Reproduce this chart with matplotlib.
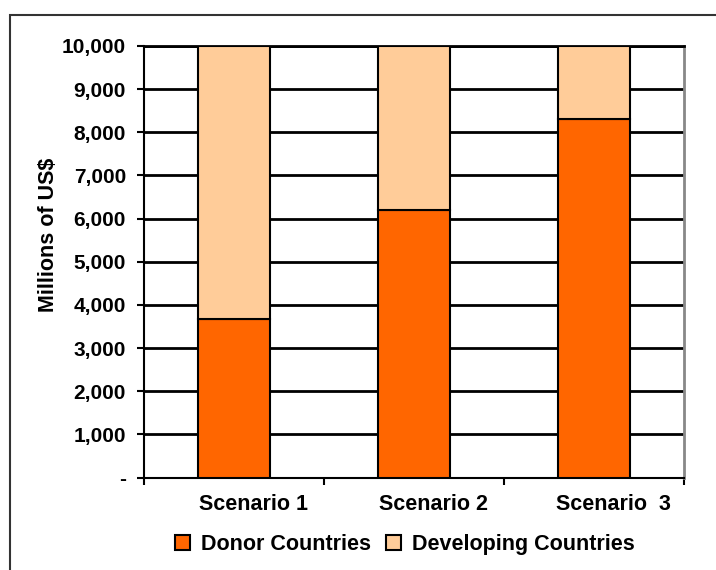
import numpy as np
import matplotlib.pyplot as plt
from matplotlib.patches import Rectangle
from matplotlib.ticker import FuncFormatter

plt.rcParams['font.family'] = ['Liberation Sans', 'DejaVu Sans']
plt.rcParams['font.weight'] = 'bold'

scenarios = ["Scenario 1", "Scenario 2", "Scenario  3"]
donor = [3680, 6210, 8310]
total = [10000, 10000, 10000]
developing = [t - d for t, d in zip(total, donor)]

fig = plt.figure(figsize=(7.16, 5.70), dpi=100)
ax = fig.add_axes([144/716, 1 - 477.5/570, 540/716, 431.5/570])

x = np.arange(len(scenarios))
w = 0.4
ax.bar(x, donor, w, color='#FF6600', edgecolor='black', linewidth=1.5, label='Donor Countries', zorder=3)
ax.bar(x, developing, w, bottom=donor, color='#FFCC99', edgecolor='black', linewidth=1.5,
       label='Developing Countries', zorder=3)

ax.set_xlim(-0.5, 2.5)
ax.set_ylim(0, 10000)
ax.set_yticks(np.arange(0, 10001, 1000))
ax.yaxis.set_major_formatter(FuncFormatter(lambda v, p: '-' if v == 0 else f'{int(v):,}'))
# labels sit a little right of the bar centres, as in the original
ax.set_xticks(x + 0.11)
ax.set_xticklabels(scenarios, fontsize=15.5, fontweight='bold')
ax.set_xticks([-0.5, 0.5, 1.5, 2.5], minor=True)
ax.tick_params(axis='x', which='major', length=0, pad=12)
ax.tick_params(axis='x', which='minor', length=5, width=1.5, direction='out')
ax.tick_params(axis='y', length=5, width=1.5, direction='out', labelsize=15, pad=8)
for lab in ax.get_yticklabels():
    lab.set_fontweight('bold')

ax.grid(axis='y', color='black', linewidth=2, zorder=0)
ax.spines['left'].set_linewidth(1.5)
ax.spines['bottom'].set_linewidth(1.5)
ax.spines['top'].set_linewidth(2)
ax.spines['right'].set_color('#888888')
ax.spines['right'].set_linewidth(2)

ax.set_ylabel('Millions of US$', fontsize=15.5, fontweight='bold')
ax.yaxis.set_label_coords(-0.157, 0.563)

leg = ax.legend(loc='upper center', bbox_to_anchor=(0.483, -0.086), ncol=2, frameon=False,
                fontsize=15.5, handlelength=0.7, handleheight=0.7, handletextpad=0.5,
                columnspacing=0.7)
for h in leg.legend_handles:
    h.set_linewidth(1.5)

fig.patches.append(Rectangle((10/716, -0.05), 1.0, 1 - 15/570 + 0.05, transform=fig.transFigure,
                             fill=False, edgecolor='#333333', linewidth=1.5))

fig.savefig('out.png', dpi=100)
